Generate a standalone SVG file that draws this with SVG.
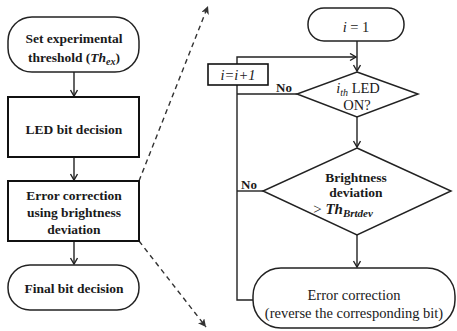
<svg xmlns="http://www.w3.org/2000/svg" width="457" height="331" viewBox="0 0 457 331" font-family="'Liberation Serif', 'DejaVu Serif', serif">
<style>
.box{fill:#fff;stroke:#111;stroke-width:2}
.term{fill:#fff;stroke:#222;stroke-width:1.5}
.ln{fill:none;stroke:#222;stroke-width:1.4}
.dash{fill:none;stroke:#333;stroke-width:1.4;stroke-dasharray:5,4}
text{font-family:'Liberation Serif','DejaVu Serif',serif;fill:#1a1a1a;text-anchor:middle}
.b{font-weight:bold;font-size:13.5px}
.r{font-size:14.5px}
</style>
<defs>
<marker id="arr" markerUnits="userSpaceOnUse" markerWidth="10" markerHeight="10" refX="7" refY="4" orient="auto">
<path d="M1,0.5 L7,4 L1,7.5" fill="none" stroke="#222" stroke-width="1.4"/>
</marker>
<marker id="darr" markerUnits="userSpaceOnUse" markerWidth="10" markerHeight="10" refX="8" refY="4" orient="auto">
<path d="M0,0 L8,4 L0,8 L2,4 Z" fill="#333"/>
</marker>
</defs>
<g id="connectors">
<line class="ln" x1="74" y1="72" x2="74" y2="96" marker-end="url(#arr)"/>
<line class="ln" x1="74" y1="157" x2="74" y2="180" marker-end="url(#arr)"/>
<line class="ln" x1="74" y1="241" x2="74" y2="264" marker-end="url(#arr)"/>
<line class="dash" x1="139" y1="181" x2="208" y2="6" marker-end="url(#darr)"/>
<line class="dash" x1="139" y1="241" x2="206" y2="327" marker-end="url(#darr)"/>
<line class="ln" x1="357" y1="41" x2="357" y2="71" marker-end="url(#arr)"/>
<polyline class="ln" points="253,300 237,300 237,57 356,57" marker-end="url(#arr)"/>
<line class="ln" x1="297" y1="94" x2="237" y2="94"/>
<line class="ln" x1="263" y1="191" x2="237" y2="191"/>
<line class="ln" x1="357" y1="117" x2="357" y2="147" marker-end="url(#arr)"/>
<line class="ln" x1="357" y1="235" x2="357" y2="267" marker-end="url(#arr)"/>
<text x="284" y="92" style="font-size:13px;font-weight:bold">No</text>
<text x="249" y="189" style="font-size:13px;font-weight:bold">No</text>
</g>
<g id="start">
<rect class="term" x="8" y="17" width="131" height="55" rx="24"/>
<text class="b" x="74" y="43">Set experimental</text>
<text class="b" x="74" y="62">threshold (<tspan font-style="italic">Th</tspan><tspan font-style="italic" font-size="10" dy="3">ex</tspan><tspan dy="-3">)</tspan></text>
</g>
<g id="led-bit">
<rect class="box" x="8" y="97" width="131" height="60"/>
<text class="b" x="74" y="134">LED bit decision</text>
</g>
<g id="error-corr">
<rect class="box" x="8" y="181" width="131" height="60"/>
<text class="b" x="74" y="200">Error correction</text>
<text class="b" x="74" y="217">using brightness</text>
<text class="b" x="74" y="234">deviation</text>
</g>
<g id="final">
<rect class="term" x="8" y="265" width="131" height="45" rx="22"/>
<text class="b" x="74" y="293">Final bit decision</text>
</g>
<g id="i1">
<rect class="term" x="308" y="8" width="96" height="33" rx="16"/>
<text class="r" x="356" y="32"><tspan font-style="italic">i</tspan> = 1</text>
</g>
<g id="incr">
<rect class="box" x="208" y="64" width="60" height="21" style="stroke-width:1.6"/>
<text class="r" x="238" y="80" font-style="italic" font-size="14">i=i+1</text>
</g>
<g id="d1">
<polygon class="term" points="357,72 418,94 357,117 297,94"/>
<text class="r" x="358" y="93"><tspan font-style="italic">i</tspan><tspan font-style="italic" font-size="10" dy="3">th</tspan><tspan dy="-3"> LED</tspan></text>
<text class="r" x="357" y="110">ON?</text>
</g>
<g id="d2">
<polygon class="term" points="357,148 451,191 357,235 263,191"/>
<text class="b" x="356" y="182">Brightness</text>
<text class="b" x="356" y="197">deviation</text>
<text x="343" y="214" style="font-size:15px">&gt; <tspan font-weight="bold" font-style="italic">Th</tspan><tspan font-weight="bold" font-style="italic" font-size="11" dy="3">Brtdev</tspan></text>
</g>
<g id="correct">
<rect class="term" x="253" y="268" width="202" height="60" rx="28"/>
<text class="r" x="354" y="300">Error correction</text>
<text class="r" x="354" y="318">(reverse the corresponding bit)</text>
</g>
</svg>
